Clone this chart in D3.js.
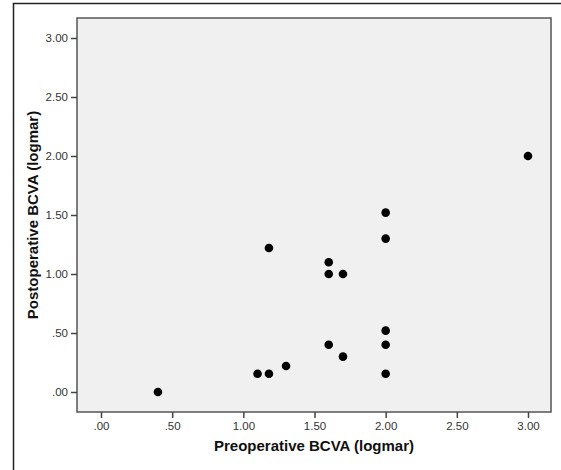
<!DOCTYPE html>
<meta charset="utf-8">
<script src="https://d3js.org/d3.v7.min.js"></script>
<style>
    body { margin: 0; background: #fff; }
    .tick text { font-family: "Liberation Sans", Arial, sans-serif; font-size: 11.5px; fill: #333; }
    .axis-title { font-family: "Liberation Sans", Arial, sans-serif; font-weight: bold; font-size: 15px; fill: #111; }
</style>
<div id="chart"></div>
<script>
    // data (logMAR)
    var preop  = [0.40, 1.10, 1.18, 1.30, 1.18, 1.60, 1.60, 1.70, 1.60, 1.70, 2.00, 2.00, 2.00, 2.00, 2.00, 3.00];
    var postop = [0.00, 0.155, 0.155, 0.22, 1.22, 1.10, 1.00, 1.00, 0.40, 0.30, 1.52, 1.30, 0.52, 0.40, 0.155, 2.00];
    var ticks  = [0, 0.5, 1, 1.5, 2, 2.5, 3];

    var W = 561, H = 470;
    var plot = {left: 77, top: 18, right: 551, bottom: 412};

    var svg = d3.select("#chart").append("svg")
        .attr("width", W).attr("height", H);

    // outer frame (only top and left visible)
    svg.append("path")
        .attr("d", "M13.5," + H + "V3.5H" + W)
        .attr("fill", "none").attr("stroke", "#222").attr("stroke-width", 1.5);

    var x = d3.scaleLinear().domain([0, 3]).range([101, 528]);
    var y = d3.scaleLinear().domain([0, 3]).range([392, 38]);

    function fmt(d) { return d3.format(".2f")(d).replace(/^0/, ""); }

    svg.append("rect")
        .attr("x", plot.left).attr("y", plot.top)
        .attr("width", plot.right - plot.left).attr("height", plot.bottom - plot.top)
        .attr("fill", "#f0f0f0").attr("stroke", "#555").attr("stroke-width", 1.5);

    var xAxis = svg.append("g")
        .attr("transform", "translate(0," + plot.bottom + ")")
        .call(d3.axisBottom(x).tickValues(ticks).tickFormat(fmt).tickSize(6).tickPadding(4));
    var yAxis = svg.append("g")
        .attr("transform", "translate(" + plot.left + ",0)")
        .call(d3.axisLeft(y).tickValues(ticks).tickFormat(fmt).tickSize(6).tickPadding(3));
    [xAxis, yAxis].forEach(function(a) {
        a.select(".domain").remove();
        a.selectAll(".tick line").attr("stroke", "#444").attr("stroke-width", 1.5);
    });

    svg.selectAll("circle.pt")
        .data(preop)
        .enter().append("circle")
        .attr("class", "pt")
        .attr("cx", function(d) { return x(d); })
        .attr("cy", function(d, i) { return y(postop[i]); })
        .attr("r", 4.3)
        .attr("fill", "#000");

    svg.append("text")
        .attr("class", "axis-title")
        .attr("x", 314).attr("y", 451)
        .attr("text-anchor", "middle")
        .text("Preoperative BCVA (logmar)");

    svg.append("text")
        .attr("class", "axis-title")
        .attr("transform", "translate(38,215) rotate(-90)")
        .attr("text-anchor", "middle")
        .text("Postoperative BCVA (logmar)");
</script>
